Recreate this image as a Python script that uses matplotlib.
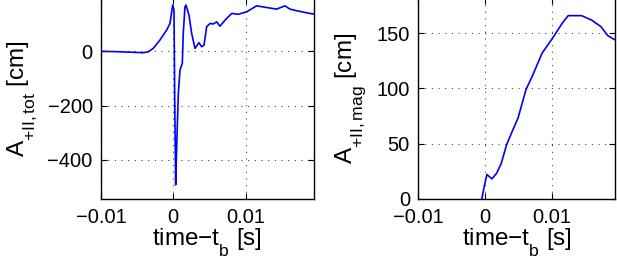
import matplotlib
matplotlib.use("Agg")
import matplotlib.pyplot as plt
import matplotlib._mathtext as _mt
import numpy as np

plt.rcParams['font.family'] = ['Liberation Sans', 'DejaVu Sans']
plt.rcParams['mathtext.fontset'] = 'custom'
plt.rcParams['mathtext.rm'] = 'Liberation Sans'
plt.rcParams['mathtext.it'] = 'Liberation Sans'
plt.rcParams['mathtext.default'] = 'regular'
# MATLAB-like subscripts: dropped lower below the baseline
_mt.FontConstantsBase.sub1 = 0.85
_mt.SHRINK_FACTOR = 0.72

# Left panel: A_{+II,tot}
t_tot = [-0.01, -0.008, -0.006, -0.00415, -0.0035, -0.00277, -0.00184, -0.00091, -0.00046,
         -0.00008, 0.0001, 0.0002, 0.00033, 0.00047, 0.0007, 0.00093, 0.00125, 0.00138,
         0.00162, 0.00176, 0.00217, 0.00254, 0.003, 0.00355, 0.00393, 0.00425, 0.00462,
         0.00508, 0.00553, 0.006, 0.00646, 0.00715, 0.00808, 0.009, 0.01015, 0.01153,
         0.0129, 0.0143, 0.01545, 0.01614, 0.01707, 0.0189, 0.0194]
a_tot = [0, -1, -3, -5, -2, 11, 42, 79, 103,
         171, 152, -180, -493, -352, -155, -69, -44, 67,
         165, 171, 134, 67, 11, 32, 17, 23, 91,
         103, 101, 109, 93, 115, 140, 137, 146, 168,
         162, 156, 168, 156, 150, 140, 138]

# Right panel: A_{+II,mag}
t_mag = [-0.0005, -0.00015, 0.00025, 0.001, 0.0017, 0.0024, 0.0032, 0.0041, 0.0049,
         0.0061, 0.0071, 0.0085, 0.01, 0.0115, 0.0124, 0.0144, 0.0159, 0.0173, 0.0183, 0.0194]
a_mag = [0, 11, 22, 18, 23, 32, 49, 62, 73,
         99, 112, 132, 145, 159, 166, 166, 162, 156, 148, 144]

xticks = [-0.01, 0, 0.01]
xticklabels = ['\u22120.01', '0', '0.01']
yticks_tot = [-400, -200, 0]
yticklabels_tot = ['\u2212400', '\u2212200', '0']
yticks_mag = [0, 50, 100, 150]

W, H = 617, 258
fig = plt.figure(figsize=(W / 100, H / 100), dpi=100)

def px_axes(x0, x1, ytop, ybot):
    return fig.add_axes([x0 / W, (H - ybot) / H, (x1 - x0) / W, (ybot - ytop) / H])

fs = 14.5
lfs = 17.5

def style(ax):
    ax.tick_params(direction='in', length=4, width=0.8, top=True, right=True,
                   labelsize=fs, pad=6)
    ax.tick_params(axis='x', pad=7)
    ax.grid(True, linestyle=(0, (1, 5)), color='#444444', linewidth=0.8)
    for s in ax.spines.values():
        s.set_linewidth(1.0)
        s.set_color('black')

ax1 = px_axes(101, 313.5, -2, 198.7)
ax1.plot(t_tot, a_tot, color='#0000ff', linewidth=1.2)
ax1.set_xlim(-0.01, 0.0194)
ax1.set_ylim(-544, 197)
ax1.set_xticks(xticks)
ax1.set_xticklabels(xticklabels)
ax1.set_yticks(yticks_tot)
ax1.set_yticklabels(yticklabels_tot)
style(ax1)
ax1.set_xlabel(r'time$-$t$_\mathrm{b}$ [s]', fontsize=lfs, labelpad=0)
ax1.set_ylabel(r'A$_\mathrm{+II,tot}$ [cm]', fontsize=lfs, labelpad=6)

ax2 = px_axes(418.3, 615, -2, 198.7)
ax2.plot(t_mag, a_mag, color='#0000ff', linewidth=1.2)
ax2.set_xlim(-0.01, 0.0194)
ax2.set_ylim(0, 182)
ax2.set_xticks(xticks)
ax2.set_xticklabels(xticklabels)
ax2.set_yticks(yticks_mag)
style(ax2)
ax2.set_xlabel(r'time$-$t$_\mathrm{b}$ [s]', fontsize=lfs, labelpad=0)
ax2.set_ylabel(r'A$_\mathrm{+II,mag}$ [cm]', fontsize=lfs, labelpad=6)

fig.savefig('out.png', dpi=100)
